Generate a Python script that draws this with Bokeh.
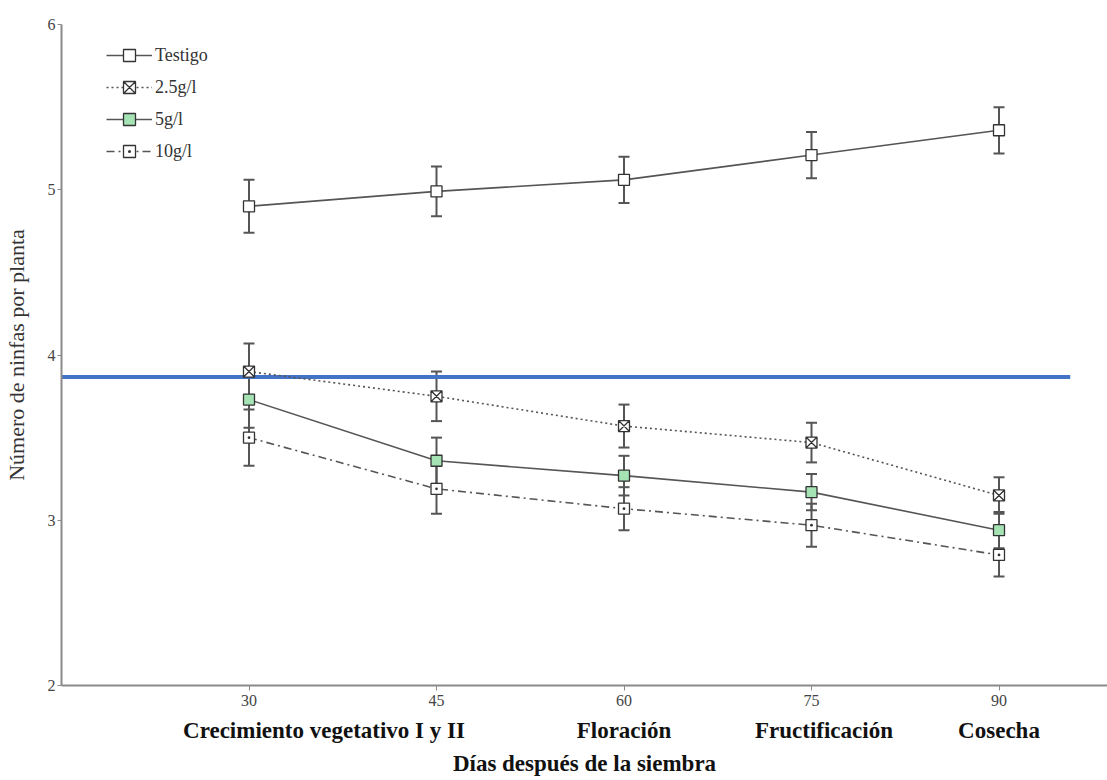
from bokeh.plotting import figure
from bokeh.models import (Range1d, FixedTicker, LinearAxis, Whisker, TeeHead,
                          ColumnDataSource, Legend, LegendItem)
from bokeh.embed import file_html
from bokeh.resources import INLINE

# ---- data ----
days = [30, 45, 60, 75, 90]
testigo = [4.90, 4.99, 5.06, 5.21, 5.36]
testigo_err = [0.16, 0.15, 0.14, 0.14, 0.14]
g25 = [3.90, 3.75, 3.57, 3.47, 3.15]
g25_err = [0.17, 0.15, 0.13, 0.12, 0.11]
g5 = [3.73, 3.36, 3.27, 3.17, 2.94]
g5_err = [0.17, 0.14, 0.12, 0.11, 0.11]
g10 = [3.50, 3.19, 3.07, 2.97, 2.79]
g10_err = [0.17, 0.15, 0.13, 0.13, 0.13]
series_names = ["Testigo", "2.5g/l", "5g/l", "10g/l"]
stage_pos = [36, 60, 76, 90]
stage_labels = ["Crecimiento vegetativo I y II", "Floración", "Fructificación", "Cosecha"]
y_ticks = [2, 3, 4, 5, 6]
ref_days = [10, 95.7]
ref_value = 3.867

FONT = "Liberation Serif"
GRAY = "#555555"
AXIS = "#8a8a8a"

p = figure(width=1107, height=780, x_range=Range1d(15, 98.68), y_range=Range1d(2, 6),
           output_backend="svg", toolbar_location=None,
           min_border_left=61, min_border_top=24, min_border_right=0, min_border_bottom=95)
p.outline_line_color = None
p.xgrid.visible = False
p.ygrid.visible = False
p.background_fill_color = "white"
p.border_fill_color = "white"

# y axis
p.yaxis.ticker = FixedTicker(ticks=y_ticks)
p.yaxis.axis_line_color = AXIS
p.yaxis.axis_line_width = 2
p.yaxis.major_tick_line_color = AXIS
p.yaxis.major_tick_out = 4
p.yaxis.major_tick_in = 0
p.yaxis.minor_tick_line_color = None
p.yaxis.major_label_text_font = FONT
p.yaxis.major_label_text_font_size = "16px"
p.yaxis.major_label_text_color = "#444444"
p.yaxis.major_label_standoff = 2
p.yaxis.axis_label = "Número de ninfas por planta"
p.yaxis.axis_label_text_font = FONT
p.yaxis.axis_label_text_font_style = "normal"
p.yaxis.axis_label_text_font_size = "22px"
p.yaxis.axis_label_text_color = "#333333"
p.yaxis.axis_label_standoff = 16

# x axis (days)
p.xaxis.ticker = FixedTicker(ticks=days)
p.xaxis.axis_line_color = AXIS
p.xaxis.axis_line_width = 2
p.xaxis.major_tick_line_color = AXIS
p.xaxis.major_tick_out = 5
p.xaxis.major_tick_in = 0
p.xaxis.minor_tick_line_color = None
p.xaxis.major_label_text_font = FONT
p.xaxis.major_label_text_font_size = "16px"
p.xaxis.major_label_text_color = "#444444"
p.xaxis.major_label_standoff = 4

# stage axis
stage_axis = LinearAxis(ticker=FixedTicker(ticks=stage_pos),
                        major_label_overrides={k: v for k, v in zip(stage_pos, stage_labels)})
stage_axis.axis_line_color = None
stage_axis.major_tick_line_color = None
stage_axis.major_tick_out = 0
stage_axis.major_tick_in = 0
stage_axis.minor_tick_line_color = None
stage_axis.major_label_text_font = FONT
stage_axis.major_label_text_font_style = "bold"
stage_axis.major_label_text_font_size = "23px"
stage_axis.major_label_text_color = "#111111"
stage_axis.major_label_standoff = 9
stage_axis.axis_label = "Días después de la siembra"
stage_axis.axis_label_text_font = FONT
stage_axis.axis_label_text_font_style = "bold"
stage_axis.axis_label_text_font_size = "23px"
stage_axis.axis_label_text_color = "#111111"
stage_axis.axis_label_standoff = 5
p.add_layout(stage_axis, "below")

# reference line
p.line(x=ref_days, y=[ref_value, ref_value], line_color="#4472C4", line_width=4)

series = [
    (testigo, testigo_err, "solid", "square", "white"),
    (g25, g25_err, "2 3", "square_x", "white"),
    (g5, g5_err, "solid", "square", "#a6e3b4"),
    (g10, g10_err, "8 4 2 4", "square_dot", "white"),
]

items = []
for name, (vals, errs, dash, marker, fill) in zip(series_names, series):
    src = ColumnDataSource(dict(x=days, y=vals,
                                lo=[v - e for v, e in zip(vals, errs)],
                                hi=[v + e for v, e in zip(vals, errs)]))
    w = Whisker(source=src, base="x", lower="lo", upper="hi",
                line_color=GRAY, line_width=2,
                upper_head=TeeHead(size=11, line_color=GRAY, line_width=2),
                lower_head=TeeHead(size=11, line_color=GRAY, line_width=2))
    p.add_layout(w)
    ln = p.line("x", "y", source=src, line_color=GRAY, line_width=1.6, line_dash=dash)
    sc = p.scatter("x", "y", source=src, marker=marker, size=11, fill_color=fill,
                   line_color="#333333", line_width=1.3)
    items.append(LegendItem(label=name, renderers=[ln, sc]))

legend = Legend(items=items, location=(45, 519), glyph_width=46, glyph_height=30,
                spacing=2, padding=0, margin=0, label_standoff=3,
                background_fill_alpha=0, border_line_color=None,
                label_text_font=FONT, label_text_font_size="18px",
                label_text_color="#333333")
p.add_layout(legend)

open("out.html", "w").write(file_html(p, INLINE))
